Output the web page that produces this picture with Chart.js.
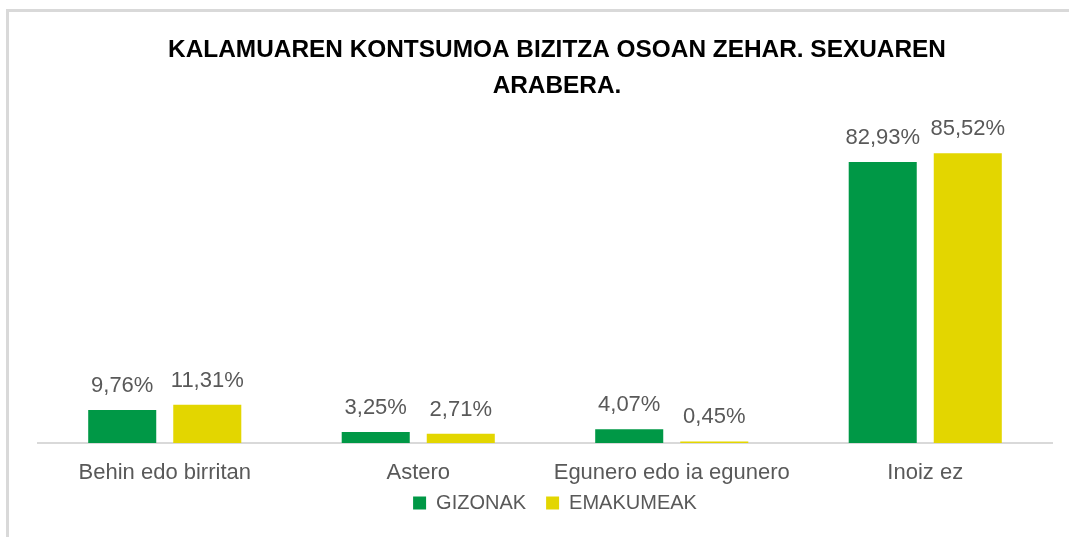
<!DOCTYPE html>
<html lang="eu">
<head>
<meta charset="utf-8">
<title>Kalamuaren kontsumoa</title>
<script src="https://cdn.jsdelivr.net/npm/chart.js@4.4.1/dist/chart.umd.min.js"></script>
<style>
  html, body { margin: 0; padding: 0; background: #fff; }
  #wrap { position: relative; width: 1069px; height: 537px; overflow: hidden; }
  #frame {
    position: absolute; left: 6px; top: 9px; width: 1100px; height: 600px;
    border-top: 3px solid #d9d9d9; border-left: 3px solid #d9d9d9;
  }
  #chart { position: absolute; left: 0; top: 0; }
</style>
</head>
<body>
<div id="wrap">
  <div id="frame"></div>
  <canvas id="chart" width="1069" height="537"></canvas>
</div>
<script>
// Chart data
const categories = ['Behin edo birritan', 'Astero', 'Egunero edo ia egunero', 'Inoiz ez'];
const seriesNames = ['GIZONAK', 'EMAKUMEAK'];
const gizonak = [9.76, 3.25, 4.07, 82.93];
const emakumeak = [11.31, 2.71, 0.45, 85.52];
const titleLines = ['KALAMUAREN KONTSUMOA BIZITZA OSOAN ZEHAR. SEXUAREN', 'ARABERA.'];

const GREEN = '#009846';
const YELLOW = '#e3d600';
const GREY_TEXT = '#595959';
const FONT = '"Liberation Sans", Arial, sans-serif';

// Two-line bold title, centred over the whole frame
const frameTitle = {
  id: 'frameTitle',
  afterDraw(chart) {
    const ctx = chart.ctx;
    ctx.save();
    ctx.font = 'bold 24.4px ' + FONT;
    ctx.fillStyle = '#000';
    ctx.textAlign = 'center';
    ctx.textBaseline = 'alphabetic';
    titleLines.forEach((line, i) => ctx.fillText(line, 557, 57 + i * 36));
    ctx.restore();
  }
};

// Percent labels above each bar, with a comma as decimal separator
const valueLabels = {
  id: 'valueLabels',
  afterDatasetsDraw(chart) {
    const ctx = chart.ctx;
    ctx.save();
    ctx.font = '22px ' + FONT;
    ctx.fillStyle = GREY_TEXT;
    ctx.textAlign = 'center';
    ctx.textBaseline = 'alphabetic';
    chart.data.datasets.forEach((ds, di) => {
      chart.getDatasetMeta(di).data.forEach((bar, i) => {
        const txt = ds.data[i].toFixed(2).replace('.', ',') + '%';
        ctx.fillText(txt, bar.x, bar.y - 18);
      });
    });
    ctx.restore();
  }
};

// Pull the legend row a little up and right, closer to the category labels
const legendShift = {
  id: 'legendShift',
  afterLayout(chart) {
    const lg = chart.legend;
    if (lg) {
      lg.left += 10;
      lg.right += 10;
      lg.top -= 14;
      lg.bottom -= 14;
    }
  }
};

new Chart(document.getElementById('chart'), {
  type: 'bar',
  data: {
    labels: categories,
    datasets: [
      { label: seriesNames[0], data: gizonak, backgroundColor: GREEN },
      { label: seriesNames[1], data: emakumeak, backgroundColor: YELLOW }
    ]
  },
  options: {
    responsive: false,
    animation: false,
    devicePixelRatio: 1,
    layout: { padding: { left: 38, right: 17, top: 138, bottom: 0 } },
    categoryPercentage: 0.671,
    barPercentage: 0.8,
    scales: {
      x: {
        grid: { display: false, drawTicks: false },
        border: { display: true, color: '#d9d9d9', width: 2 },
        ticks: {
          color: GREY_TEXT,
          padding: 17,
          font: { family: FONT, size: 22 },
          maxRotation: 0
        },
        afterFit(scale) { scale.height = 44; }
      },
      y: { display: false, min: 0, max: 90 }
    },
    plugins: {
      title: { display: false },
      legend: {
        position: 'bottom',
        labels: {
          color: GREY_TEXT,
          boxWidth: 13,
          boxHeight: 13,
          padding: 20,
          font: { family: FONT, size: 20 }
        }
      },
      tooltip: { enabled: false }
    }
  },
  plugins: [valueLabels, frameTitle, legendShift]
});
</script>
</body>
</html>
